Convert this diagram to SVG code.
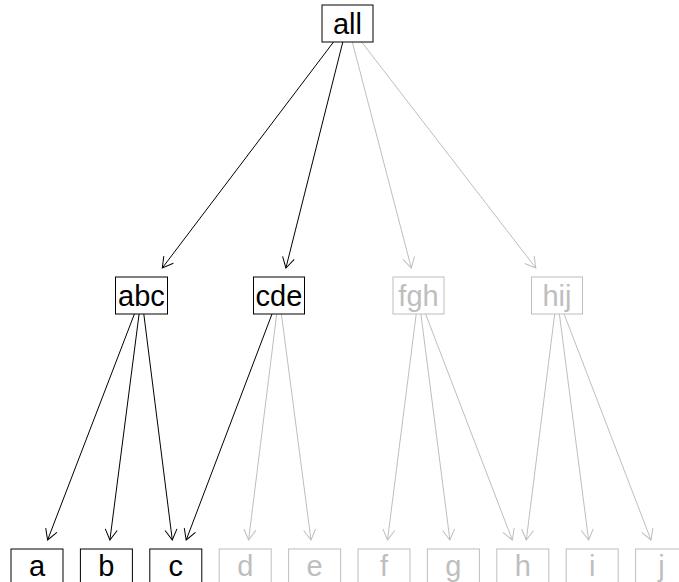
<svg xmlns="http://www.w3.org/2000/svg" width="679" height="582" viewBox="0 0 679 582">
<style>
.box{fill:#fff;stroke-width:1}
.k .box{stroke:#000}
.g .box{stroke:#BEBEBE}
text{font-family:"Liberation Sans",Arial,sans-serif;font-size:29px;text-anchor:middle}
.k text{fill:#000}
.g text{fill:#BEBEBE}
.ek{stroke:#000;stroke-width:1;fill:none;marker-end:url(#ak)}
.eg{stroke:#BEBEBE;stroke-width:1;fill:none;marker-end:url(#ag)}
</style>
<defs>
<marker id="ak" markerUnits="userSpaceOnUse" viewBox="-12 -7 13 14" markerWidth="13" markerHeight="14" refX="0" refY="0" orient="auto">
<path d="M-10.4,-6 L0,0 L-10.4,6" fill="none" stroke="#000" stroke-width="1"/>
</marker>
<marker id="ag" markerUnits="userSpaceOnUse" viewBox="-12 -7 13 14" markerWidth="13" markerHeight="14" refX="0" refY="0" orient="auto">
<path d="M-10.4,-6 L0,0 L-10.4,6" fill="none" stroke="#BEBEBE" stroke-width="1"/>
</marker>
</defs>
<g id="connectors">
<line class="ek" x1="333.5" y1="42" x2="162.3" y2="268"/>
<line class="ek" x1="342.8" y1="42" x2="285.9" y2="268"/>
<line class="eg" x1="352.3" y1="42" x2="411.3" y2="268"/>
<line class="eg" x1="361.7" y1="42" x2="535.8" y2="268"/>
<line class="ek" x1="134.4" y1="314" x2="47.6" y2="540"/>
<line class="ek" x1="139.1" y1="314" x2="109.9" y2="540"/>
<line class="ek" x1="143.8" y1="314" x2="172.3" y2="540"/>
<line class="ek" x1="272.0" y1="314" x2="186.2" y2="540"/>
<line class="eg" x1="276.7" y1="314" x2="248.6" y2="540"/>
<line class="eg" x1="281.4" y1="314" x2="311.0" y2="540"/>
<line class="eg" x1="416.2" y1="314" x2="387.5" y2="540"/>
<line class="eg" x1="420.9" y1="314" x2="449.9" y2="540"/>
<line class="eg" x1="425.6" y1="314" x2="512.3" y2="540"/>
<line class="eg" x1="554.7" y1="314" x2="526.3" y2="540"/>
<line class="eg" x1="559.4" y1="314" x2="588.6" y2="540"/>
<line class="eg" x1="564.1" y1="314" x2="651.0" y2="540"/>
</g>
<g id="all" class="k"><rect class="box" x="322" y="5" width="51" height="37"/><text x="347.5" y="34">all</text></g>
<g id="abc" class="k"><rect class="box" x="115.5" y="277" width="52" height="37"/><text x="141.5" y="306">abc</text></g>
<g id="cde" class="k"><rect class="box" x="253.5" y="277" width="51" height="37"/><text x="279" y="306">cde</text></g>
<g id="fgh" class="g"><rect class="box" x="393" y="277" width="51" height="37"/><text x="418.5" y="306">fgh</text></g>
<g id="hij" class="g"><rect class="box" x="531.5" y="277" width="51" height="37"/><text x="557" y="306">hij</text></g>
<g id="a" class="k"><rect class="box" x="11" y="549" width="52" height="37"/><text x="37" y="576">a</text></g>
<g id="b" class="k"><rect class="box" x="80.4" y="549" width="52" height="37"/><text x="106.4" y="576">b</text></g>
<g id="c" class="k"><rect class="box" x="149.8" y="549" width="52" height="37"/><text x="175.8" y="576">c</text></g>
<g id="d" class="g"><rect class="box" x="219.2" y="549" width="52" height="37"/><text x="245.2" y="576">d</text></g>
<g id="e" class="g"><rect class="box" x="288.6" y="549" width="52" height="37"/><text x="314.6" y="576">e</text></g>
<g id="f" class="g"><rect class="box" x="358" y="549" width="52" height="37"/><text x="384" y="576">f</text></g>
<g id="g" class="g"><rect class="box" x="427.4" y="549" width="52" height="37"/><text x="453.4" y="576">g</text></g>
<g id="h" class="g"><rect class="box" x="496.8" y="549" width="52" height="37"/><text x="522.8" y="576">h</text></g>
<g id="i" class="g"><rect class="box" x="566.2" y="549" width="52" height="37"/><text x="592.2" y="576">i</text></g>
<g id="j" class="g"><rect class="box" x="635.6" y="549" width="52" height="37"/><text x="661.6" y="576">j</text></g>
</svg>
